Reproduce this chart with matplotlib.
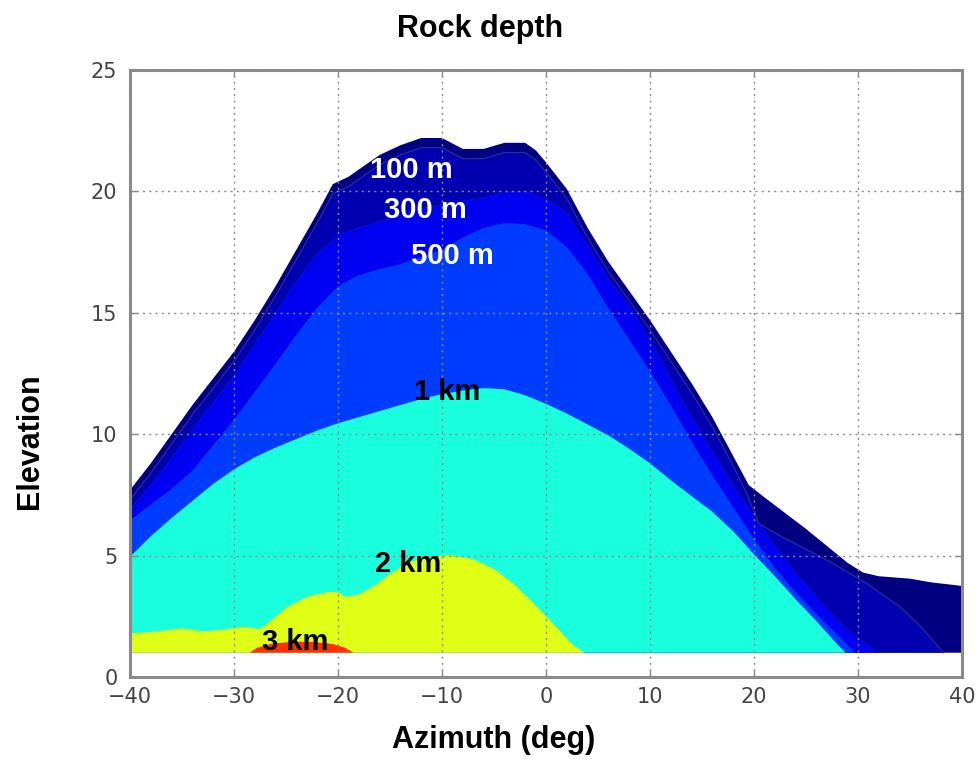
import matplotlib
matplotlib.use("Agg")
import matplotlib.pyplot as plt

# ---- data ----
top_x = [-40, -38, -36, -34, -32, -30, -28, -26, -24, -22, -20.5, -19, -18, -16, -14, -12, -10, -8, -6, -4,
         -2, -1, 0, 2, 4, 6, 8, 10, 12, 14, 16, 18, 19.5, 21, 23, 25, 27, 29, 30.5, 32, 35, 37, 40]
top_y = [7.7, 8.8, 10.0, 11.2, 12.3, 13.4, 14.7, 16.1, 17.6, 19.1, 20.3, 20.6, 20.9, 21.5, 21.9, 22.2, 22.2, 21.75, 21.75, 22.0,
         22.0, 21.7, 21.2, 20.1, 18.5, 17.1, 15.9, 14.7, 13.4, 12.1, 10.7, 9.1, 7.9, 7.4, 6.75, 6.1, 5.4, 4.7, 4.3, 4.15, 4.05, 3.9, 3.75]

b100_x = [-40, -38, -36, -34, -32, -30, -28, -26, -24, -22, -20.5, -19, -18, -16, -14, -12, -10, -8, -6, -4,
          -2, -1, 0, 2, 4, 6, 8, 10, 12, 14, 16, 18, 19.3, 20.5, 23, 25.5, 27.6, 30.8, 34, 36, 38.2]
b100_y = [7.3, 8.4, 9.6, 10.8, 11.9, 13.0, 14.3, 15.7, 17.2, 18.7, 19.9, 20.2, 20.5, 21.1, 21.5, 21.8, 21.8, 21.35, 21.35, 21.6,
          21.6, 21.3, 20.8, 19.7, 18.1, 16.7, 15.5, 14.3, 13.0, 11.7, 10.3, 8.7, 7.55, 6.3, 5.7, 5.15, 4.68, 3.86, 2.9, 2.1, 1.0]

b300_x = [-40, -38, -36, -34, -32, -30, -28, -26, -24, -22, -20, -18, -16, -14, -12, -10, -8, -6, -4, -2,
          0, 2, 4, 6, 8, 10, 12, 14, 16, 18, 20, 22, 24, 26, 28, 30, 31.8]
b300_y = [6.9, 7.9, 9.0, 10.2, 11.3, 12.4, 13.7, 15.0, 16.3, 17.4, 18.2, 18.5, 18.75, 19.0, 19.3, 19.45, 19.6, 19.75, 19.95, 20.0,
          19.7, 19.1, 17.8, 16.4, 15.3, 13.9, 12.3, 10.7, 9.3, 7.9, 6.6, 5.4, 4.3, 3.3, 2.35, 1.6, 1.0]

b500_x = [-40, -38, -36, -34, -32, -30, -28, -26, -24, -22, -20, -18, -16, -14, -12, -10, -8, -6, -4, -2,
          0, 2, 4, 6, 8, 10, 12, 14, 16, 18, 20, 22, 24, 26, 28, 29.7]
b500_y = [6.45, 7.1, 7.75, 8.5, 9.55, 10.6, 11.75, 12.9, 14.1, 15.2, 16.1, 16.55, 16.8, 17.0, 17.3, 17.6, 18.1, 18.5, 18.7, 18.65,
          18.4, 17.7, 16.6, 15.2, 13.9, 12.6, 11.2, 9.7, 8.3, 7.0, 5.7, 4.5, 3.5, 2.6, 1.75, 1.0]

b1k_x = [-40, -38, -36, -34, -32, -30, -28, -26, -24, -22, -20, -18, -16, -14, -12, -10, -8, -6, -4, -2,
         0, 2, 4, 6, 8, 10, 12, 14, 16, 18, 20, 22, 24, 26, 28, 28.8]
b1k_y = [4.95, 5.8, 6.55, 7.25, 7.95, 8.55, 9.05, 9.45, 9.8, 10.15, 10.45, 10.7, 10.95, 11.2, 11.45, 11.65, 11.8, 11.9, 11.85, 11.6,
         11.25, 10.85, 10.4, 9.95, 9.4, 8.8, 8.1, 7.45, 6.8, 6.0, 5.05, 4.15, 3.2, 2.3, 1.35, 1.0]

b2k_x = [-40, -38, -35, -33, -31, -29, -27.5, -26.5, -25, -23, -21, -20, -19.3, -18, -16.5, -15, -13, -11, -9.2, -7,
         -5, -3, -1, 1, 2.5, 3.7]
b2k_y = [1.8, 1.85, 2.0, 1.88, 1.95, 2.07, 1.97, 2.3, 2.85, 3.3, 3.5, 3.5, 3.3, 3.4, 3.75, 4.25, 4.75, 4.95, 5.02, 4.85,
         4.45, 3.8, 2.95, 2.05, 1.35, 1.0]

b3k_x = [-28.5, -27.8, -26.5, -24.5, -22.5, -20.5, -19.3, -18.5]
b3k_y = [1.0, 1.2, 1.36, 1.45, 1.45, 1.36, 1.2, 1.0]

baseline = 1.0

label_x = [-12.95, -11.6, -9.0, -9.5, -13.3, -24.1]
label_y = [20.88, 19.25, 17.35, 11.74, 4.65, 1.44]
label_text = ["100 m", "300 m", "500 m", "1 km", "2 km", "3 km"]

x_ticks = [-40, -30, -20, -10, 0, 10, 20, 30, 40]
y_ticks = [0, 5, 10, 15, 20, 25]

# ---- style ----
colors = ["#000080", "#0000b0", "#0000f2", "#003cff", "#19ffde", "#e0ff16", "#ff3000"]
label_colors = ["white", "white", "white", "black", "black", "black"]

fig = plt.figure(figsize=(9.78, 7.59), dpi=100)
ax = fig.add_axes([130 / 978, 82 / 759, 832 / 978, 607 / 759])

layers = [(top_x, top_y), (b100_x, b100_y), (b300_x, b300_y), (b500_x, b500_y),
          (b1k_x, b1k_y), (b2k_x, b2k_y), (b3k_x, b3k_y)]
for (lx, ly), c in zip(layers, colors):
    ax.fill_between(lx, baseline, ly, facecolor=c, edgecolor="none", linewidth=0, zorder=1)

# faint contour edges
ax.plot(b100_x, b100_y, color="#2a2aa0", lw=0.9, zorder=1.2)
ax.plot(b300_x, b300_y, color="#1a1ad0", lw=0.6, zorder=1.2, alpha=0.6)

for tx, ty, t, c in zip(label_x, label_y, label_text, label_colors):
    ax.text(tx, ty, t, color=c, fontsize=21, fontweight="bold", family="Liberation Sans",
            ha="center", va="center", zorder=4)

ax.set_xlim(-40, 40)
ax.set_ylim(0, 25)
ax.set_xticks(x_ticks)
ax.set_yticks(y_ticks)
ax.set_axisbelow(False)
ax.grid(True, color="#8c8c8c", linestyle=(0, (1.5, 3)), linewidth=1.0, zorder=2)

for s in ax.spines.values():
    s.set_color("#8a8a8a")
    s.set_linewidth(2.2)
ax.tick_params(direction="in", length=5, width=1, color="#8a8a8a", labelcolor="#444444",
               labelsize=15, top=True, right=True)
ax.tick_params(axis="y", pad=9)
ax.tick_params(axis="x", pad=7)

fig.text(480 / 978, 1 - 37 / 759, "Rock depth", ha="center", va="baseline",
         fontsize=22, fontweight="bold", family="Liberation Sans")
fig.text(494 / 978, 1 - 748 / 759, "Azimuth (deg)", ha="center", va="baseline",
         fontsize=22, fontweight="bold", family="Liberation Sans")
fig.text(30 / 978, 1 - 441 / 759, "Elevation", ha="center", va="center", rotation=90,
         fontsize=22, fontweight="bold", family="Liberation Sans")

fig.savefig("out.png", dpi=100)
